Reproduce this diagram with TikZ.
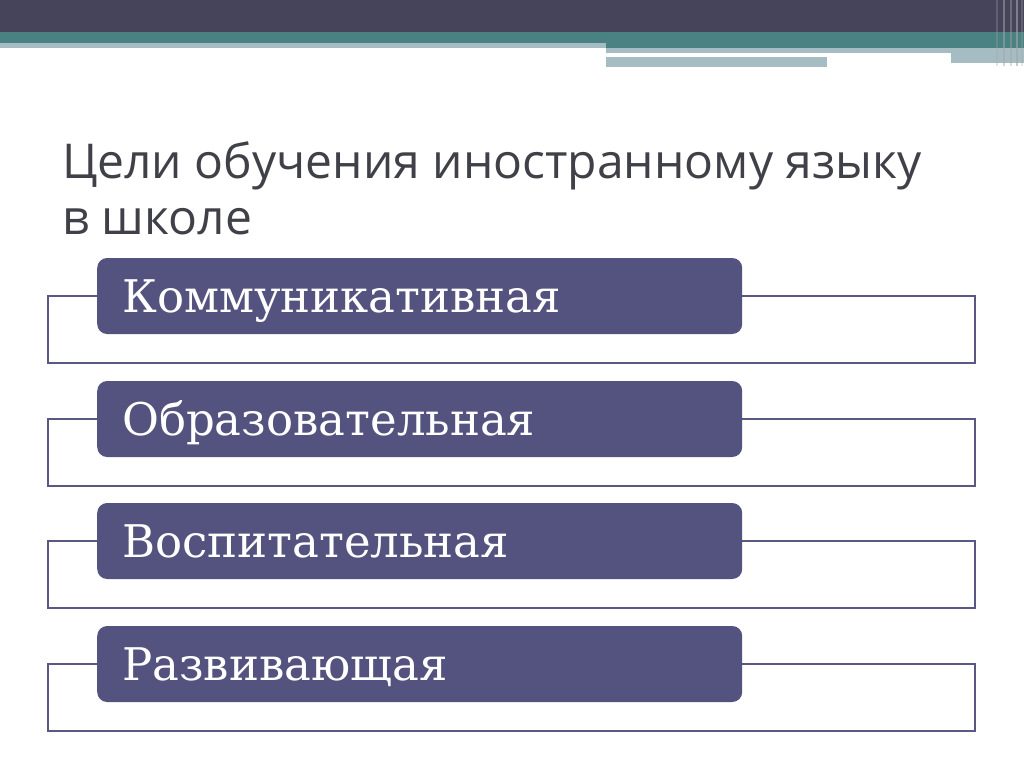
\documentclass[tikz,border=0pt]{standalone}
\usepackage{fontspec}
\setmainfont{DejaVu Serif}
\newfontfamily\titlefont{Open Sans}
\usetikzlibrary{positioning}

\definecolor{barDark}{HTML}{46445A}
\definecolor{barTeal}{HTML}{4A8283}
\definecolor{barLight}{HTML}{A5BDC2}
\definecolor{goalFill}{HTML}{54537F}
\definecolor{goalLine}{HTML}{5A5882}
\definecolor{titleGray}{HTML}{404048}

\tikzset{
    goalbox/.style={fill=goalFill, rounded corners=10pt, anchor=west,
        minimum height=76pt, text width=595pt, inner xsep=25pt, align=left,
        text height=34pt, text depth=2pt,
        text=white, font=\fontsize{45}{50}\selectfont},
    bracket/.style={draw=goalLine, line width=1.6pt},
    titletext/.style={anchor=base west, inner sep=0pt, text=titleGray,
        font=\titlefont\fontsize{48}{56}\selectfont}
}

\begin{document}
\begin{tikzpicture}[x=1pt, y=-1pt]
    \useasboundingbox (0,0) rectangle (1024,767);
    \fill[white] (0,0) rectangle (1024,767);
    % top bar
    \fill[barDark] (0,0) rectangle (1024,32);
    \fill[barTeal] (0,32) rectangle (1024,43);
    \fill[barTeal] (606,43) rectangle (1024,48);
    \fill[barLight] (0,43) rectangle (606,48);
    \fill[barLight] (606,48) rectangle (1024,53);
    \fill[barLight] (951,53) rectangle (1024,63);
    \fill[barLight] (606,57) rectangle (827,67);
    \foreach \xs/\op in {996/0.3, 1003/0.5, 1010/0.4, 1016/0.6, 1021/0.3}
        \fill[gray!70, opacity=\op] (\xs,0) rectangle (\xs+2,66);
    % title
    \node[titletext] (title1) at (62,179) {Цели обучения иностранному языку};
    \node[titletext] (title2) at (62,235) {в школе};
    % goals
    \foreach \txt/\yc [count=\i] in {Коммуникативная/296, Образовательная/419,
                                     Воспитательная/541, Развивающая/664} {
        \node[goalbox] (goal\i) at (97,\yc) {\txt};
        \draw[bracket] (goal\i.west) -- (48,\yc) -- (48,\yc+67)
            -- (975,\yc+67) -- (975,\yc) -- (goal\i.east);
    }
\end{tikzpicture}
\end{document}
